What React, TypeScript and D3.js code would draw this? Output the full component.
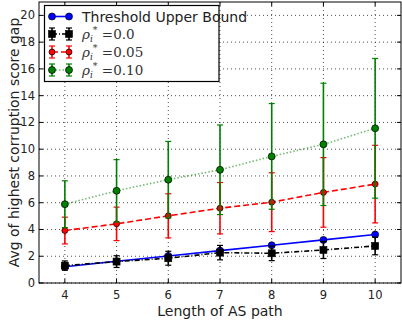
import React from "react";
import * as d3 from "d3";

const pathLengths = [4, 5, 6, 7, 8, 9, 10];
const thresholdUpper = [1.22, 1.62, 2.02, 2.42, 2.82, 3.22, 3.62];
const rho00 = [1.3, 1.6, 1.85, 2.27, 2.22, 2.47, 2.77];
const rho00Err = [0.35, 0.44, 0.52, 0.54, 0.55, 0.64, 0.66];
const rho05 = [3.92, 4.42, 5.02, 5.59, 6.04, 6.77, 7.39];
const rho05Err = [1.0, 1.25, 1.65, 1.92, 2.2, 2.6, 2.9];
const rho10 = [5.89, 6.89, 7.72, 8.46, 9.46, 10.36, 11.56];
const rho10Err = [1.75, 2.33, 2.86, 3.35, 3.95, 4.57, 5.22];
const yTicks = [0, 2, 4, 6, 8, 10, 12, 14, 16, 18, 20];
const rhoLabels = ["0.0", "0.05", "0.10"];

const W = 402;
const H = 320;
const margin = { top: 2, right: 1, bottom: 37, left: 39 };

const App = () => {
  const x = d3.scaleLinear().domain([3.5, 10.5]).range([margin.left, W - margin.right]);
  const y = d3.scaleLinear().domain([0, 21]).range([H - margin.bottom, margin.top]);
  const line = d3.line<number>().x((d, i) => x(pathLengths[i])).y(d => y(d));

  const errSeries = [
    { vals: rho00, err: rho00Err, color: "#000000", dash: "5,2,1,2", marker: "square", r: 3.5, label: rhoLabels[0], lineOpacity: 1 },
    { vals: rho05, err: rho05Err, color: "#ff0000", dash: "6,3", marker: "circle", r: 3, label: rhoLabels[1], lineOpacity: 1 },
    { vals: rho10, err: rho10Err, color: "#008000", dash: "1.5,2", marker: "circle", r: 3.5, label: rhoLabels[2], lineOpacity: 0.55 },
  ];

  const x0 = margin.left, x1 = W - margin.right, y0 = H - margin.bottom, y1 = margin.top;
  const font = "'DejaVu Sans', sans-serif";

  const drawMarker = (kind: string, cx: number, cy: number, r: number, color: string, key: string) =>
    kind === "square" ? (
      <rect key={key} x={cx - r} y={cy - r} width={2 * r} height={2 * r} fill={color} stroke="#000" strokeWidth={0.6} />
    ) : (
      <circle key={key} cx={cx} cy={cy} r={r} fill={color} stroke="#000" strokeWidth={0.7} />
    );

  const legendRows = [16.5, 34, 52, 70];

  return (
    <svg width={W} height={H} style={{ position: "absolute", left: 0, top: 0, background: "#fff" }} fontFamily={font}>
      {/* grid */}
      {pathLengths.map(v => (
        <line key={"gx" + v} x1={x(v)} x2={x(v)} y1={y0} y2={y1} stroke="#000" strokeWidth={0.7} strokeDasharray="1,3" />
      ))}
      {yTicks.map(v => (
        <line key={"gy" + v} x1={x0} x2={x1} y1={y(v)} y2={y(v)} stroke="#000" strokeWidth={0.7} strokeDasharray="1,3" />
      ))}

      {/* threshold line */}
      <path d={line(thresholdUpper) || ""} fill="none" stroke="#0000ff" strokeWidth={1.6} />
      {thresholdUpper.map((v, i) => drawMarker("circle", x(pathLengths[i]), y(v), 3.5, "#0000ff", "tb" + i))}

      {errSeries.map((s, si) => (
        <g key={"s" + si}>
          {s.vals.map((v, i) => {
            const cx = x(pathLengths[i]);
            return (
              <g key={"e" + i} stroke={s.color} strokeWidth={1.6}>
                <line x1={cx} x2={cx} y1={y(v - s.err[i])} y2={y(v + s.err[i])} />
                <line x1={cx - 3} x2={cx + 3} y1={y(v - s.err[i])} y2={y(v - s.err[i])} strokeWidth={1.2} />
                <line x1={cx - 3} x2={cx + 3} y1={y(v + s.err[i])} y2={y(v + s.err[i])} strokeWidth={1.2} />
              </g>
            );
          })}
          <path d={line(s.vals) || ""} fill="none" stroke={s.color} strokeWidth={1.6} strokeDasharray={s.dash} strokeOpacity={s.lineOpacity} />
          {s.vals.map((v, i) => drawMarker(s.marker, x(pathLengths[i]), y(v), s.r, s.color, "m" + i))}
        </g>
      ))}

      {/* frame and ticks */}
      <rect x={x0} y={y1} width={x1 - x0} height={y0 - y1} fill="none" stroke="#000" strokeWidth={1} />
      {pathLengths.map(v => (
        <g key={"tx" + v}>
          <line x1={x(v)} x2={x(v)} y1={y0} y2={y0 - 4} stroke="#000" />
          <line x1={x(v)} x2={x(v)} y1={y1} y2={y1 + 4} stroke="#000" />
          <text x={x(v)} y={y0 + 16} textAnchor="middle" fontSize={11.5} fill="#222">{v}</text>
        </g>
      ))}
      {yTicks.map(v => (
        <g key={"ty" + v}>
          <line x1={x0} x2={x0 + 4} y1={y(v)} y2={y(v)} stroke="#000" />
          <line x1={x1} x2={x1 - 4} y1={y(v)} y2={y(v)} stroke="#000" />
          <text x={x0 - 4} y={y(v) + 4} textAnchor="end" fontSize={11.5} fill="#222">{v}</text>
        </g>
      ))}

      <text x={(x0 + x1) / 2} y={H - 4} textAnchor="middle" fontSize={14} fill="#222">Length of AS path</text>
      <text transform={`translate(19,${(y0 + y1) / 2}) rotate(-90)`} textAnchor="middle" fontSize={14} fill="#222">
        Avg of highest corruption score gap
      </text>

      {/* legend */}
      <rect x={44.5} y={5.5} width={174.5} height={76} fill="#fff" stroke="#000" strokeWidth={1.2} />
      <line x1={52} x2={69} y1={legendRows[0]} y2={legendRows[0]} stroke="#0000ff" strokeWidth={1.6} />
      {drawMarker("circle", 52, legendRows[0], 3.5, "#0000ff", "lg0a")}
      {drawMarker("circle", 69, legendRows[0], 3.5, "#0000ff", "lg0b")}
      <text x={82} y={legendRows[0] + 5} fontSize={14} fill="#222">Threshold Upper Bound</text>
      {errSeries.map((s, si) => {
        const ly = legendRows[si + 1];
        return (
          <g key={"lg" + si}>
            <line x1={52} x2={69} y1={ly} y2={ly} stroke={s.color} strokeWidth={1.6} strokeDasharray={s.dash} strokeOpacity={s.lineOpacity} />
            {[52, 69].map(lx => (
              <g key={"lb" + lx} stroke={s.color} strokeWidth={1.6}>
                <line x1={lx} x2={lx} y1={ly - 6} y2={ly + 6} />
                <line x1={lx - 3} x2={lx + 3} y1={ly - 6} y2={ly - 6} strokeWidth={1.2} />
                <line x1={lx - 3} x2={lx + 3} y1={ly + 6} y2={ly + 6} strokeWidth={1.2} />
              </g>
            ))}
            {drawMarker(s.marker, 52, ly, s.r, s.color, "la")}
            {drawMarker(s.marker, 69, ly, s.r, s.color, "lb")}
            <text x={82} y={ly + 4.5} fontFamily="'DejaVu Serif', serif" fontSize={13.5} fill="#333">
              <tspan fontStyle="italic">ρ</tspan>
              <tspan fontStyle="italic" fontSize={9} dy={3}>i</tspan>
              <tspan fontSize={9.5} dy={-9}>*</tspan>
              <tspan dy={6}> =</tspan>
              <tspan>{s.label}</tspan>
            </text>
          </g>
        );
      })}
    </svg>
  );
};

export default App;
